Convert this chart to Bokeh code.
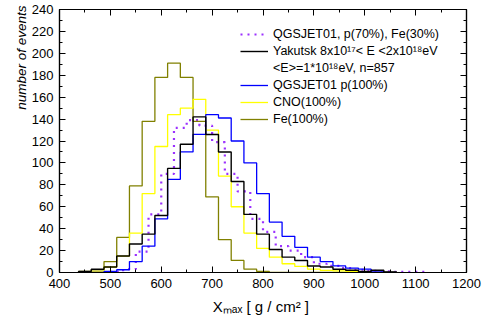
import numpy as np
from bokeh.plotting import figure
from bokeh.models import (Range1d, LinearAxis, Legend, LegendItem, SingleIntervalTicker,
                          CustomJSTickFormatter, Title)
from bokeh.embed import file_html
from bokeh.resources import INLINE

# ---- data ----
bin_width = 25
bin_centers = [450, 475, 500, 525, 550, 575, 600, 625, 650, 675, 700, 725, 750,
               775, 800, 825, 850, 875, 900, 925, 950, 975, 1000, 1025, 1050]
fe_counts = [1, 2.5, 10, 32, 79, 138, 178, 191, 178, 138, 69, 30, 11,
             3, 1, 0, 0, 0, 0, 0, 0, 0, 0, 0, 0]
cno_counts = [0.5, 1, 5, 15, 36, 72, 115, 144, 150, 158, 130, 88, 60,
              36, 22, 14, 8, 5.5, 3, 2, 1.5, 1, 0.5, 0, 0]
p_counts = [0, 0, 1, 2.5, 10, 24, 49, 85, 110, 126, 144, 141, 120,
            100, 72, 46, 33, 23, 14, 10, 6, 4, 3, 0.5, 0]
yakutsk_counts = [1, 3, 5, 15, 26, 35, 52, 95, 117, 142, 126, 110, 83,
                  53, 35, 21, 14, 11, 6, 5, 3, 2, 1, 2, 0.5]
mix_centers = [512.5, 537.5, 562.5, 587.5, 612.5, 637.5, 662.5, 687.5, 712.5,
               737.5, 762.5, 787.5, 812.5, 837.5, 862.5, 887.5, 912.5, 937.5,
               962.5, 987.5, 1012.5, 1037.5, 1062.5, 1087.5, 1112.5]
mix_counts = [0.5, 3, 19, 53, 90, 132, 139, 134, 119, 90, 74, 49, 37,
              24, 20, 14, 8, 6, 4, 2.5, 1.5, 1, 0.5, 0.5, 0.5]

legend_labels = ["QGSJET01, p(70%), Fe(30%)",
                 "Yakutsk 8x10\u00b9\u2077< E <2x10\u00b9\u2078eV",
                 "<E>=1*10\u00b9\u2078eV, n=857",
                 "QGSJET01 p(100%)",
                 "CNO(100%)",
                 "Fe(100%)"]
x_title = "X\u2098\u2090\u2093  [ g / cm\u00b2 ]"
y_title = "number of events"

FONT = "Liberation Sans"


def step_xy(centers, counts):
    c = np.asarray(centers, float)
    v = np.asarray(counts, float)
    edges = c - bin_width / 2.0
    xs = np.concatenate([[edges[0]], edges, [c[-1] + bin_width / 2.0]])
    ys = np.concatenate([[0.0], v, [0.0]])
    return xs, ys


p = figure(width=482, height=320, x_range=Range1d(400, 1200), y_range=Range1d(0, 240),
           output_backend="svg", toolbar_location=None,
           min_border_left=59, min_border_right=16, min_border_top=9, min_border_bottom=48)
p.background_fill_color = "white"
p.border_fill_color = "white"
p.xgrid.visible = False
p.ygrid.visible = False
p.outline_line_color = "black"
p.outline_line_width = 1.2

xt = SingleIntervalTicker(interval=100, num_minor_ticks=2)
yt = SingleIntervalTicker(interval=20, num_minor_ticks=2)


def style_axis(ax, show_labels):
    ax.axis_line_color = "black"
    ax.axis_line_width = 1.2
    ax.major_tick_in = 6
    ax.major_tick_out = 0
    ax.minor_tick_in = 3
    ax.minor_tick_out = 0
    ax.major_tick_line_color = "black"
    ax.minor_tick_line_color = "black"
    if show_labels:
        ax.major_label_text_font = FONT
        ax.major_label_text_font_size = "13px"
        ax.major_label_text_color = "black"
        ax.major_label_standoff = 6
    else:
        ax.formatter = CustomJSTickFormatter(code="return ''")
        ax.major_label_standoff = 0


p.xaxis.ticker = xt
p.yaxis.ticker = yt
style_axis(p.xaxis[0], True)
style_axis(p.yaxis[0], True)

xa = p.xaxis[0]
xa.axis_label = x_title
xa.axis_label_text_font = FONT
xa.axis_label_text_font_size = "15px"
xa.axis_label_text_font_style = "normal"
xa.axis_label_text_color = "black"
xa.axis_label_standoff = 7

# y title placed at the top end of the left side, as in the reference
ytitle = Title(text=y_title, align="right", text_font=FONT, text_font_size="13.5px",
               text_font_style="italic", text_color="black", standoff=0, offset=-4)
p.add_layout(ytitle, "left")

top_ax = LinearAxis(ticker=xt)
right_ax = LinearAxis(ticker=yt)
style_axis(top_ax, False)
style_axis(right_ax, False)
p.add_layout(top_ax, "above")
p.add_layout(right_ax, "right")

# ---- histograms ----
lw = 1.3
x, y = step_xy(mix_centers, mix_counts)
r_mix = p.step(x, y, mode="after", line_color="#9B30FF", line_width=2.2, line_dash="2 5")
x, y = step_xy(bin_centers, fe_counts)
r_fe = p.step(x, y, mode="after", line_color="#808000", line_width=lw)
x, y = step_xy(bin_centers, cno_counts)
r_cno = p.step(x, y, mode="after", line_color="#FFFF00", line_width=lw)
x, y = step_xy(bin_centers, p_counts)
r_p = p.step(x, y, mode="after", line_color="#0000FF", line_width=lw)
x, y = step_xy(bin_centers, yakutsk_counts)
r_yak = p.step(x, y, mode="after", line_color="black", line_width=1.4)

legend = Legend(items=[
    LegendItem(label=legend_labels[0], renderers=[r_mix]),
    LegendItem(label=legend_labels[1], renderers=[r_yak]),
    LegendItem(label=legend_labels[2], renderers=[]),
    LegendItem(label=legend_labels[3], renderers=[r_p]),
    LegendItem(label=legend_labels[4], renderers=[r_cno]),
    LegendItem(label=legend_labels[5], renderers=[r_fe]),
], location=(181, 146))
legend.border_line_color = None
legend.background_fill_alpha = 0
legend.padding = 0
legend.margin = 0
legend.spacing = 3
legend.glyph_width = 28
legend.glyph_height = 12
legend.label_height = 12
legend.label_standoff = 5
legend.label_text_font = FONT
legend.label_text_font_size = "12.5px"
legend.label_text_color = "black"
p.add_layout(legend, "center")

open("out.html", "w").write(file_html(p, INLINE))
